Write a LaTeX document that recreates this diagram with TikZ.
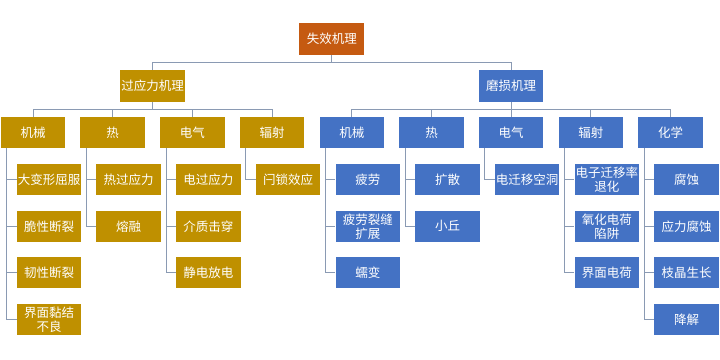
\documentclass[tikz,border=0pt]{standalone}
\usepackage{fontspec}
\setmainfont{Noto Sans CJK SC}
\definecolor{rootc}{HTML}{C55A11}
\definecolor{goldc}{HTML}{BF9000}
\definecolor{bluec}{HTML}{4472C4}
\definecolor{linec}{HTML}{8A9AB3}
\begin{document}
\begin{tikzpicture}[x=1pt,y=-1pt,
  box/.style={minimum width=64.5pt, minimum height=31pt, inner sep=0pt, text=white,
    font=\fontsize{12.5}{14}\selectfont, align=center},
  rootbox/.style={box, fill=rootc, minimum width=65pt, minimum height=32pt},
  gbox/.style={box, fill=goldc},
  bbox/.style={box, fill=bluec},
  conn/.style={draw=linec, line width=0.9pt}]
\useasboundingbox (0,0) rectangle (720,359);
% root and level 1
\node[rootbox] (root) at (331.8,39) {失效机理};
\node[gbox, minimum height=32pt] (L) at (152.5,86) {过应力机理};
\node[bbox, minimum height=32pt] (R) at (511.2,86) {磨损机理};
% level 2
\node[gbox] (lm) at (33,132.5) {机械};
\node[gbox] (lh) at (112.7,132.5) {热};
\node[gbox] (le) at (192.4,132.5) {电气};
\node[gbox] (lr) at (272.1,132.5) {辐射};
\node[bbox] (rm) at (351.8,132.5) {机械};
\node[bbox] (rh) at (431.5,132.5) {热};
\node[bbox] (re) at (511.2,132.5) {电气};
\node[bbox] (rr) at (590.9,132.5) {辐射};
\node[bbox] (rc) at (670.6,132.5) {化学};
% level 3 - left
\node[gbox] (lm1) at (49,179.5) {大变形屈服};
\node[gbox] (lm2) at (49,226.3) {脆性断裂};
\node[gbox] (lm3) at (49,272.8) {韧性断裂};
\node[gbox] (lm4) at (49,319.8) {界面黏结\\不良};
\node[gbox] (lh1) at (128.7,179.5) {热过应力};
\node[gbox] (lh2) at (128.7,226.3) {熔融};
\node[gbox] (le1) at (208.4,179.5) {电过应力};
\node[gbox] (le2) at (208.4,226.3) {介质击穿};
\node[gbox] (le3) at (208.4,272.8) {静电放电};
\node[gbox] (lr1) at (288.1,179.5) {闩锁效应};
% level 3 - right
\node[bbox] (rm1) at (367.8,179.5) {疲劳};
\node[bbox] (rm2) at (367.8,226.3) {疲劳裂缝\\扩展};
\node[bbox] (rm3) at (367.8,272.8) {蠕变};
\node[bbox] (rh1) at (447.5,179.5) {扩散};
\node[bbox] (rh2) at (447.5,226.3) {小丘};
\node[bbox] (re1) at (527.2,179.5) {电迁移空洞};
\node[bbox] (rr1) at (606.9,179.5) {电子迁移率\\退化};
\node[bbox] (rr2) at (606.9,226.3) {氧化电荷\\陷阱};
\node[bbox] (rr3) at (606.9,272.8) {界面电荷};
\node[bbox] (rc1) at (686.6,179.5) {腐蚀};
\node[bbox] (rc2) at (686.6,226.3) {应力腐蚀};
\node[bbox] (rc3) at (686.6,272.8) {枝晶生长};
\node[bbox] (rc4) at (686.6,319.8) {降解};
% connectors: tree
\draw[conn] (root.south) -- ++(0,7) -| (L.north);
\draw[conn] (root.south) -- ++(0,7) -| (R.north);
\foreach \c in {lm,lh,le,lr}{\draw[conn] (L.south) -- ++(0,7) -| (\c.north);}
\foreach \c in {rm,rh,re,rr,rc}{\draw[conn] (R.south) -- ++(0,7) -| (\c.north);}
% connectors: children
\foreach \p/\c in {lm/lm1,lm/lm2,lm/lm3,lm/lm4,lh/lh1,lh/lh2,le/le1,le/le2,le/le3,lr/lr1,
  rm/rm1,rm/rm2,rm/rm3,rh/rh1,rh/rh2,re/re1,rr/rr1,rr/rr2,rr/rr3,rc/rc1,rc/rc2,rc/rc3,rc/rc4}{
  \draw[conn] ([xshift=6pt]\p.south west) |- (\c.west);}
\end{tikzpicture}
\end{document}
